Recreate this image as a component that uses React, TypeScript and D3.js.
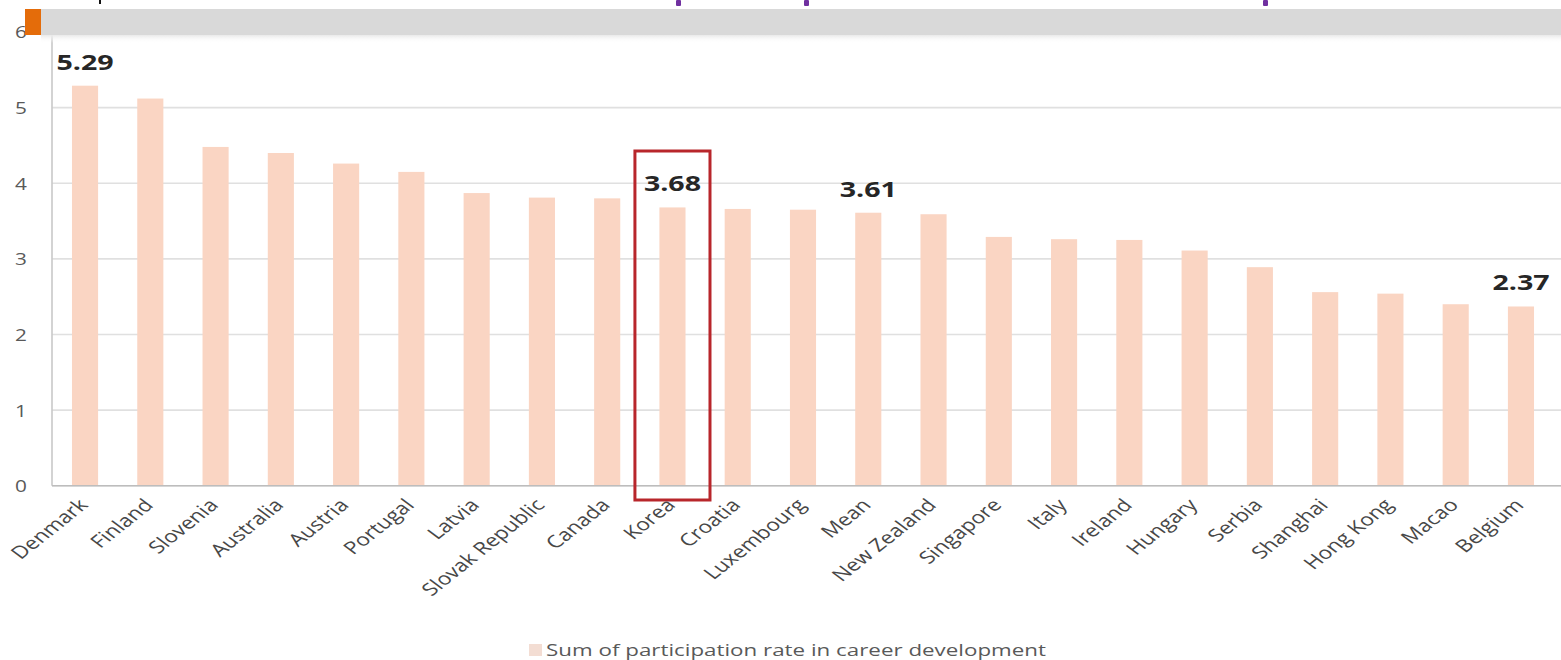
import React from "react";
import * as d3 from "d3";

const countries = [
  "Denmark", "Finland", "Slovenia", "Australia", "Austria", "Portugal", "Latvia",
  "Slovak Republic", "Canada", "Korea", "Croatia", "Luxembourg", "Mean", "New Zealand",
  "Singapore", "Italy", "Ireland", "Hungary", "Serbia", "Shanghai", "Hong Kong", "Macao", "Belgium",
];
const participation = [
  5.29, 5.12, 4.48, 4.40, 4.26, 4.15, 3.87,
  3.81, 3.80, 3.68, 3.66, 3.65, 3.61, 3.59,
  3.29, 3.26, 3.25, 3.11, 2.89, 2.56, 2.54, 2.40, 2.37,
];
const yTicks = [0, 1, 2, 3, 4, 5, 6];
const labelled = ["Denmark", "Korea", "Mean", "Belgium"];
const highlighted = "Korea";
const seriesName = "Sum of participation rate in career development";

const W = 1561;
const H = 660;
const FONT = "'Open Sans', 'DejaVu Sans', sans-serif";
const SX = 1.3; // horizontal text stretch
const BAR = "#fad5c3";
const GREY_TEXT = "#595959";
const LABEL_TEXT = "#474747";

export default function App() {
  const x = d3.scaleBand<string>().domain(countries).range([52.4, 1553.6]).paddingInner(0.6).paddingOuter(0.3);
  const y = d3.scaleLinear().domain([0, 6]).range([485.7, 32]);
  const cx = (c: string) => (x(c) as number) + x.bandwidth() / 2;

  const kx = cx(highlighted);
  const boxHalf = x.step() * 0.575;

  return (
    <svg width={W} height={H} style={{ position: "absolute", left: 0, top: 0, background: "#fff" }}>
      <defs>
        <linearGradient id="bandShadow" x1="0" y1="0" x2="0" y2="1">
          <stop offset="0" stopColor="#e9e9e9" />
          <stop offset="1" stopColor="#ffffff" stopOpacity="0" />
        </linearGradient>
      </defs>
      <rect width={W} height={H} fill="#fff" />

      {/* gridlines */}
      {yTicks.map((t) => (
        <line key={t} x1={52} x2={W} y1={y(t)} y2={y(t)} stroke="#e0e0e0" strokeWidth={1.6} />
      ))}

      {/* y tick labels */}
      {yTicks.map((t) => (
        <g key={t} transform={`translate(27,${y(t)}) scale(${SX},1)`}>
          <text textAnchor="end" dominantBaseline="central" fontFamily={FONT} fontSize={16} fill={GREY_TEXT}>
            {t}
          </text>
        </g>
      ))}

      {/* bars */}
      {countries.map((c, i) => (
        <rect key={c} x={x(c)} width={x.bandwidth()} y={y(participation[i])} height={y(0) - y(participation[i])} fill={BAR} />
      ))}

      {/* axes */}
      <line x1={52} x2={52} y1={35} y2={y(0)} stroke="#c8c8c8" strokeWidth={1.6} />
      <line x1={52} x2={W} y1={y(0)} y2={y(0)} stroke="#bdbdbd" strokeWidth={1.6} />

      {/* value labels */}
      {countries.map((c, i) =>
        labelled.includes(c) ? (
          <g key={c} transform={`translate(${cx(c)},${y(participation[i]) - 16}) scale(${SX},1)`}>
            <text textAnchor="middle" fontFamily={FONT} fontWeight={700} fontSize={22} fill="#262626">
              {participation[i].toFixed(2)}
            </text>
          </g>
        ) : null
      )}

      {/* highlight box */}
      <rect x={kx - boxHalf} y={151} width={boxHalf * 2} height={349} fill="none" stroke="#b8262b" strokeWidth={3} />

      {/* category labels */}
      {countries.map((c) => (
        <g key={c} transform={`translate(${cx(c) + 4},${506}) scale(${SX},1) rotate(-46)`}>
          <text textAnchor="end" fontFamily={FONT} fontSize={17.5} fill={LABEL_TEXT}>
            {c}
          </text>
        </g>
      ))}

      {/* legend */}
      <rect x={529} y={644} width={13} height={12} fill="#f3ddd3" />
      <g transform={`translate(546,656) scale(${SX},1)`}>
        <text fontFamily={FONT} fontSize={16} fill={GREY_TEXT} textLength={500 / SX} lengthAdjust="spacingAndGlyphs">
          {seriesName}
        </text>
      </g>

      {/* header band */}
      <rect x={41} y={35} width={W - 41} height={8} fill="url(#bandShadow)" />
      <rect x={41} y={9} width={W - 41} height={26} fill="#d9d9d9" />
      <rect x={25} y={9} width={16} height={26} fill="#e46c0a" />
      <rect x={99} y={0} width={2} height={4} fill="#111" />
      <rect x={676} y={0} width={5} height={6} rx={1} fill="#7030a0" />
      <rect x={804} y={0} width={5} height={6} rx={1} fill="#7030a0" />
      <rect x={1263} y={0} width={5} height={6} rx={1} fill="#7030a0" />
    </svg>
  );
}
